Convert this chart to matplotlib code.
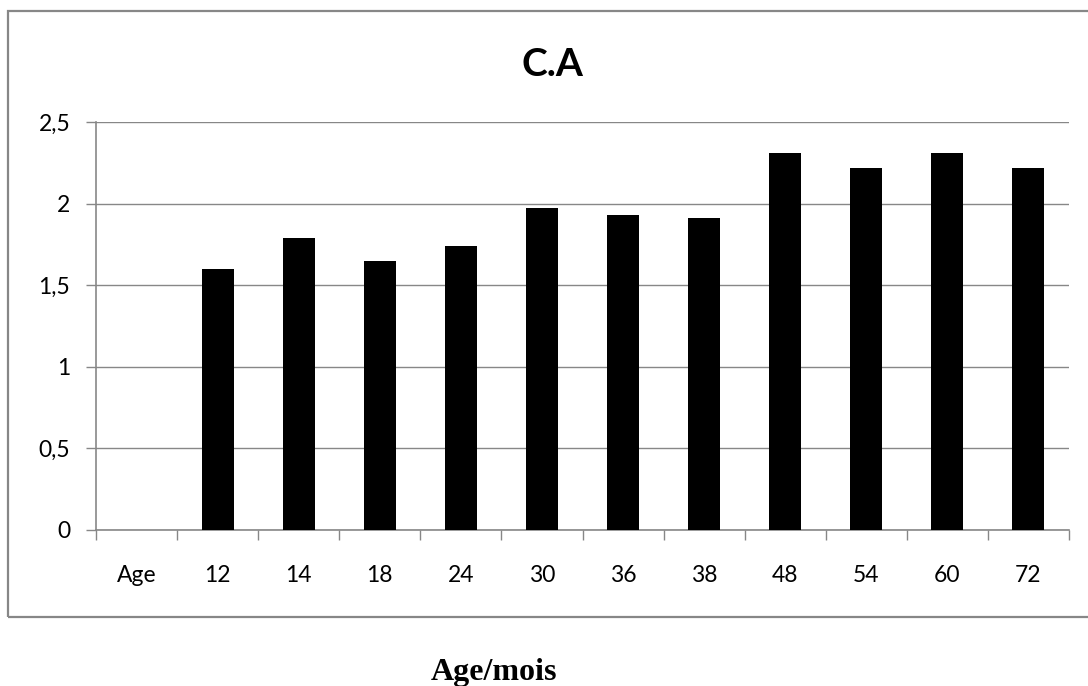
"""Bar chart of C.A by age (months)."""

import matplotlib

matplotlib.use("Agg")
import matplotlib.pyplot as plt
import numpy as np
from matplotlib.patches import Rectangle

# categories on the x axis; first slot is the "Age" header with no bar
categories = ["Age", "12", "14", "18", "24", "30", "36", "38", "48", "54", "60", "72"]
ca_values = [np.nan, 1.60, 1.79, 1.65, 1.74, 1.97, 1.93, 1.91, 2.31, 2.22, 2.31, 2.22]
y_ticks = [0, 0.5, 1, 1.5, 2, 2.5]
y_tick_labels = ["0", "0,5", "1", "1,5", "2", "2,5"]

GRAY = "#878787"
W, H = 1088, 686


def main() -> None:
    fig = plt.figure(figsize=(W / 100, H / 100), dpi=100)
    fig.patch.set_facecolor("white")

    # chart frame (grey border around the chart area)
    frame = Rectangle((8 / W, 1 - 617 / H), (1090 - 8) / W, (617 - 11) / H,
                      transform=fig.transFigure, fill=False,
                      edgecolor=GRAY, linewidth=1.6, clip_on=False)
    fig.patches.append(frame)

    ax = fig.add_axes([96 / W, 1 - 530 / H, 973 / W, 408 / H])
    x = np.arange(len(categories))
    ax.bar(x, ca_values, width=0.395, color="black", zorder=3)

    ax.set_xlim(-0.5, len(categories) - 0.5)
    ax.set_ylim(0, 2.5)

    # horizontal gridlines
    ax.set_yticks(y_ticks)
    ax.set_yticklabels(y_tick_labels)
    ax.yaxis.grid(True, color=GRAY, linewidth=1.0, zorder=0)
    ax.set_axisbelow(True)

    # x ticks sit on category boundaries, labels at the centres
    ax.set_xticks(np.arange(-0.5, len(categories), 1.0))
    ax.set_xticklabels([])
    ax.set_xticks(x, minor=True)
    ax.set_xticklabels(categories, minor=True)

    ax.tick_params(axis="x", which="major", direction="out", length=7,
                   width=1, color=GRAY)
    ax.tick_params(axis="x", which="minor", length=0, pad=25)
    ax.tick_params(axis="y", direction="out", length=7.5, width=1,
                   color=GRAY, pad=11)

    for lab in ax.get_xticklabels(minor=True) + ax.get_yticklabels():
        lab.set_fontfamily("Lato")
        lab.set_fontsize(16.5)
        lab.set_color("black")

    for side in ("top", "right"):
        ax.spines[side].set_visible(False)
    for side in ("left", "bottom"):
        ax.spines[side].set_color(GRAY)
        ax.spines[side].set_linewidth(1.2)

    fig.text(552 / W, 1 - 64 / H, "C.A", ha="center", va="center",
             fontsize=28, fontweight="bold", family="Lato")
    fig.text(494 / W, 1 - 680 / H, "Age/mois", ha="center", va="baseline",
             fontsize=23, fontweight="bold", family="Liberation Serif")

    fig.savefig("out.png", dpi=100)
    plt.close(fig)


if __name__ == "__main__":
    main()
